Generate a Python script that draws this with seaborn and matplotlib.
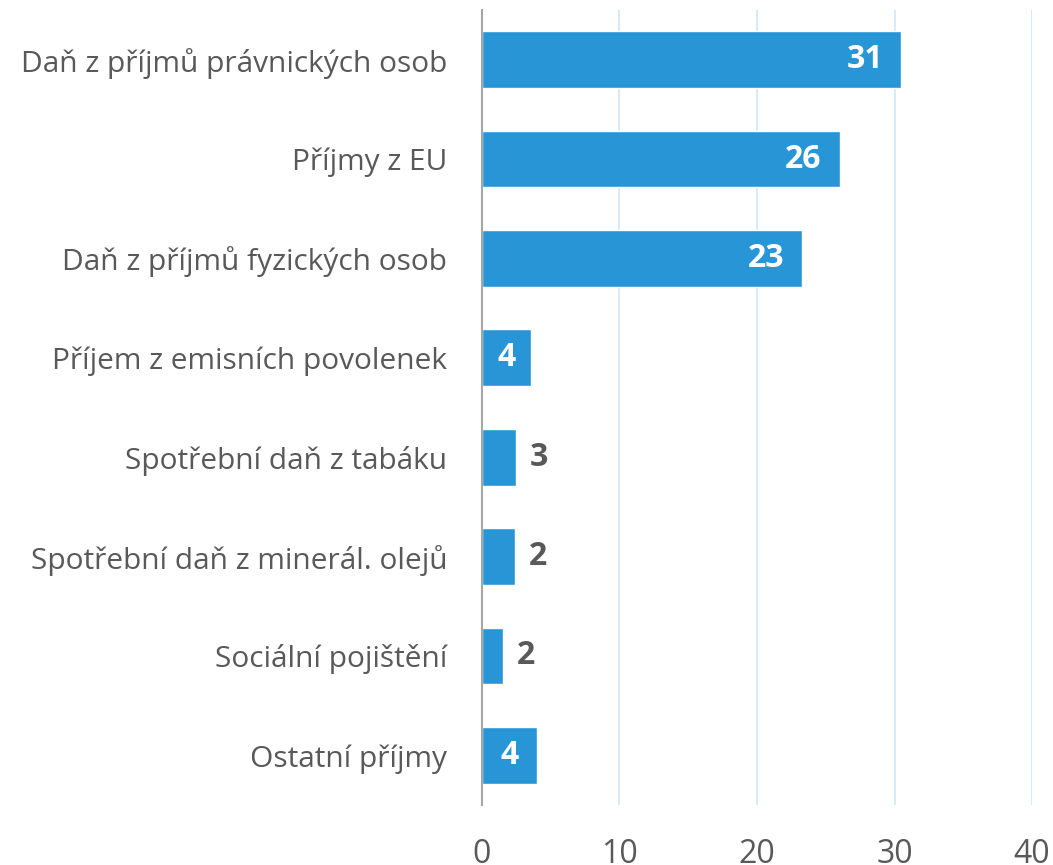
import matplotlib
matplotlib.use("Agg")
import matplotlib.pyplot as plt
import seaborn as sns
import pandas as pd

# data
categories = [
    "Daň z příjmů právnických osob",
    "Příjmy z EU",
    "Daň z příjmů fyzických osob",
    "Příjem z emisních povolenek",
    "Spotřební daň z tabáku",
    "Spotřební daň z minerál. olejů",
    "Sociální pojištění",
    "Ostatní příjmy",
]
values = [30.5, 26.0, 23.3, 3.6, 2.5, 2.4, 1.5, 4.0]
labels = ["31", "26", "23", "4", "3", "2", "2", "4"]
xticks = [0, 10, 20, 30, 40]

df = pd.DataFrame({"category": categories, "value": values, "label": labels})

sns.set_style("white")
plt.rcParams["font.family"] = ["Open Sans", "DejaVu Sans"]

fig = plt.figure(figsize=(10.53, 8.65), dpi=100)
ax = fig.add_axes([0.4577, 0.0694, 0.5224, 0.919])

bar_color = "#2896D6"
text_gray = "#595959"

sns.barplot(data=df, x="value", y="category", color=bar_color, width=0.57,
            saturation=1, ax=ax, zorder=3)

ax.set_xlim(0, 40)
ax.set_ylim(7.5, -0.5)
ax.set_xticks(xticks)
ax.set_xticklabels([str(t) for t in xticks])
ax.grid(axis="x", color="#CDE8F6", linewidth=1.2, zorder=0)
ax.grid(axis="y", visible=False)
for s in ["top", "right", "bottom"]:
    ax.spines[s].set_visible(False)
ax.spines["left"].set_color("#A6A6A6")
ax.spines["left"].set_linewidth(1.5)
ax.spines["left"].set_zorder(4)
ax.tick_params(axis="x", length=0, pad=24, labelsize=23, labelcolor=text_gray)
ax.tick_params(axis="y", length=0, pad=25, labelsize=21.5, labelcolor=text_gray)
ax.set_xlabel("")
ax.set_ylabel("")

# value labels
for i, (v, lab) in enumerate(zip(values, labels)):
    if v >= 10:
        ax.text(v - 1.3, i, lab, ha="right", va="center", color="white",
                fontsize=23, fontweight="bold", zorder=5)
    elif v >= 3.5:
        ax.text(v / 2, i, lab, ha="center", va="center", color="white",
                fontsize=23, fontweight="bold", zorder=5)
    else:
        ax.text(v + 1.0, i, lab, ha="left", va="center", color=text_gray,
                fontsize=23, fontweight="bold", zorder=5)

fig.savefig("out.png", dpi=100)
